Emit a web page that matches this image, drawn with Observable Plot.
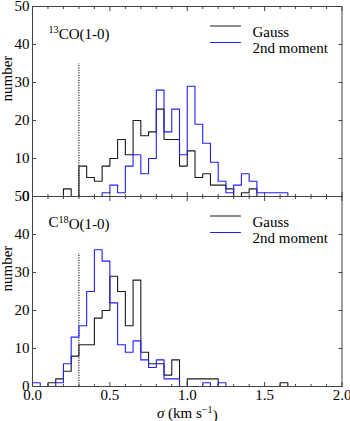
<!DOCTYPE html>
<html><head><meta charset="utf-8">
<script src="https://cdn.jsdelivr.net/npm/d3@7"></script>
<script src="https://cdn.jsdelivr.net/npm/@observablehq/plot@0.6"></script>
<style>html,body{margin:0;padding:0;background:#fff;}</style>
</head><body><div id="chart"></div>
<script>
// ---- data ----
const panels = ["13CO(1-0)", "C18O(1-0)"];
const seriesNames = ["Gauss", "2nd moment"];
const binEdges = [0.00,0.05,0.10,0.15,0.20,0.25,0.30,0.35,0.40,0.45,0.50,0.55,0.60,0.65,0.70,0.75,0.80,0.85,0.90,0.95,
                  1.00,1.05,1.10,1.15,1.20,1.25,1.30,1.35,1.40,1.45,1.50,1.55,1.60,1.65,1.70,1.75,1.80,1.85,1.90,1.95,2.00];
//                 0.00          0.25          0.50            0.75            1.00         1.25         1.50         1.75
const co13Gauss  = [0,0,0,0,2,   0,8,5,4,8,    10,15,11,20,16, 17,23,15,15,8,  12,5,6,3,3,  2,0,1,2,0,   0,0,0,0,0,   0,0,0,0,0];
const co13Moment = [0,0,0,0,0,   0,0,0,0,1,    3,1,8,11,6,     10,28,17,23,11, 29,19,14,9,4, 1,3,6,4,1,   1,1,1,0,0,   0,0,0,0,0];
const c18Gauss   = [0,0,1,2,4,   8,11,11,18,20, 29,25,16,28,9,  6,6,3,7,0,     2,2,2,2,0,   0,0,0,0,0,   0,0,1,0,0,   0,0,0,0,0];
const c18Moment  = [1,0,0,1,6,   13,16,25,36,33, 22,11,9,12,7,  5,7,2,2,0,     0,0,1,0,1,   0,0,0,0,0,   0,0,0,0,0,   0,0,0,0,0];
const yTicks = [0,10,20,30,40,50];
const yInnerTicks = [10,20,30,40];
const xMajorTicks = [0,0.5,1.0,1.5,2.0];
const xMinorTicks = [0.1,0.2,0.3,0.4,0.6,0.7,0.8,0.9,1.1,1.2,1.3,1.4,1.6,1.7,1.8,1.9];
const resolutionLimit = 0.3;
const resolutionLineTop = 35;

// ---- tables built from the arrays ----
function steps(panel, series, values) {
  const rows = [{panel, series, x: binEdges[0], y: 0}];
  values.forEach((v, i) => rows.push({panel, series, x: binEdges[i], y: v}));
  rows.push({panel, series, x: binEdges[values.length], y: 0});
  return rows;
}
const gaussRows = [...steps(panels[0], seriesNames[0], co13Gauss), ...steps(panels[1], seriesNames[0], c18Gauss)];
const momentRows = [...steps(panels[0], seriesNames[1], co13Moment), ...steps(panels[1], seriesNames[1], c18Moment)];
const panelRows = panels.map(panel => ({panel, x: resolutionLimit, top: resolutionLineTop}));

const axisColor = "#444";
const blue = "#1f1fff";
const blackLine = "#1a1a1a";
const legendShape = {draw(context, l) { context.moveTo(0, 0); context.lineTo(l, 0); }};

const chart = Plot.plot({
  width: 350,
  height: 421,
  marginLeft: 32,
  marginRight: 8.5,
  marginTop: 5,
  marginBottom: 34.3,
  style: {fontFamily: "'Liberation Serif', 'DejaVu Serif', serif", fontSize: "15px", background: "white", overflow: "visible"},
  x: {domain: [0, 2]},
  y: {domain: [0, 50]},
  fy: {domain: panels, axis: null, padding: 0},
  marks: [
    Plot.ruleX(panelRows, {x: "x", y1: 0, y2: "top", fy: "panel", stroke: "black", strokeWidth: 1, strokeDasharray: "1.2,1.3"}),
    Plot.line(gaussRows, {x: "x", y: "y", fy: "panel", curve: "step-after", stroke: blackLine, strokeWidth: 1.1}),
    Plot.line(momentRows, {x: "x", y: "y", fy: "panel", curve: "step-after", stroke: blue, strokeWidth: 1.1}),
    Plot.frame({stroke: axisColor, strokeWidth: 1}),
    // y axes
    Plot.axisY({ticks: yTicks, tickSize: 0, tickPadding: 3, label: null, tickFormat: d3.format("d")}),
    Plot.axisY({anchor: "left", ticks: yInnerTicks, tickSize: -4, tickFormat: () => "", label: null, stroke: axisColor}),
    Plot.axisY({anchor: "right", ticks: yInnerTicks, tickSize: -4, tickFormat: () => "", label: null, stroke: axisColor}),
    // x axes
    Plot.axisX({anchor: "bottom", ticks: xMajorTicks, tickSize: 0, tickPadding: 3, tickFormat: d3.format(".1f"),
                label: "σ (km s-1)", labelAnchor: "center", labelOffset: 31, labelArrow: "none"}),
    Plot.axisX({anchor: "bottom", ticks: xMajorTicks, tickSize: -4, tickFormat: () => "", label: null, facetAnchor: null, stroke: axisColor}),
    Plot.axisX({anchor: "top", ticks: xMajorTicks, tickSize: -4, tickFormat: () => "", label: null, facetAnchor: null, stroke: axisColor}),
    Plot.axisX({anchor: "bottom", ticks: xMinorTicks, tickSize: -2, tickFormat: () => "", label: null, facetAnchor: null, stroke: axisColor}),
    Plot.axisX({anchor: "top", ticks: xMinorTicks, tickSize: -2, tickFormat: () => "", label: null, facetAnchor: null, stroke: axisColor}),
    // labels
    Plot.text(panelRows, {fy: "panel", frameAnchor: "left", dx: -25, rotate: -90, text: () => "number"}),
    Plot.text(panelRows, {fy: "panel", frameAnchor: "top-left", dx: 16, dy: 20, text: "panel", textAnchor: "start"}),
    // legend
    Plot.vector(panelRows, {fy: "panel", frameAnchor: "top-left", dx: 178, dy: 19.5, length: 30, anchor: "start", shape: legendShape, stroke: blackLine, strokeWidth: 1.1}),
    Plot.vector(panelRows, {fy: "panel", frameAnchor: "top-left", dx: 178, dy: 36, length: 30, anchor: "start", shape: legendShape, stroke: blue, strokeWidth: 1.1}),
    Plot.text(panelRows, {fy: "panel", frameAnchor: "top-left", dx: 220, dy: 19.5, text: () => seriesNames[0], textAnchor: "start"}),
    Plot.text(panelRows, {fy: "panel", frameAnchor: "top-left", dx: 220, dy: 36, text: () => seriesNames[1], textAnchor: "start"})
  ]
});

// superscripts and italic sigma as real text
d3.select(chart).selectAll("text").each(function() {
  const t = this.textContent;
  const sel = d3.select(this);
  if (t === "13CO(1-0)") {
    sel.text(null);
    sel.append("tspan").attr("font-size", "0.68em").attr("dy", "-0.38em").text("13");
    sel.append("tspan").attr("dy", "0.38em").text("CO(1-0)");
  } else if (t === "C18O(1-0)") {
    sel.text(null);
    sel.append("tspan").text("C");
    sel.append("tspan").attr("font-size", "0.68em").attr("dy", "-0.38em").text("18");
    sel.append("tspan").attr("dy", "0.38em").text("O(1-0)");
  } else if (t === "σ (km s-1)") {
    sel.text(null);
    sel.append("tspan").attr("font-style", "italic").text("σ");
    sel.append("tspan").text(" (km s");
    sel.append("tspan").attr("font-size", "0.68em").attr("dy", "-0.45em").text("−1");
    sel.append("tspan").attr("dy", "0.45em").text(")");
  }
});

document.getElementById("chart").appendChild(chart);
</script>
</body></html>
